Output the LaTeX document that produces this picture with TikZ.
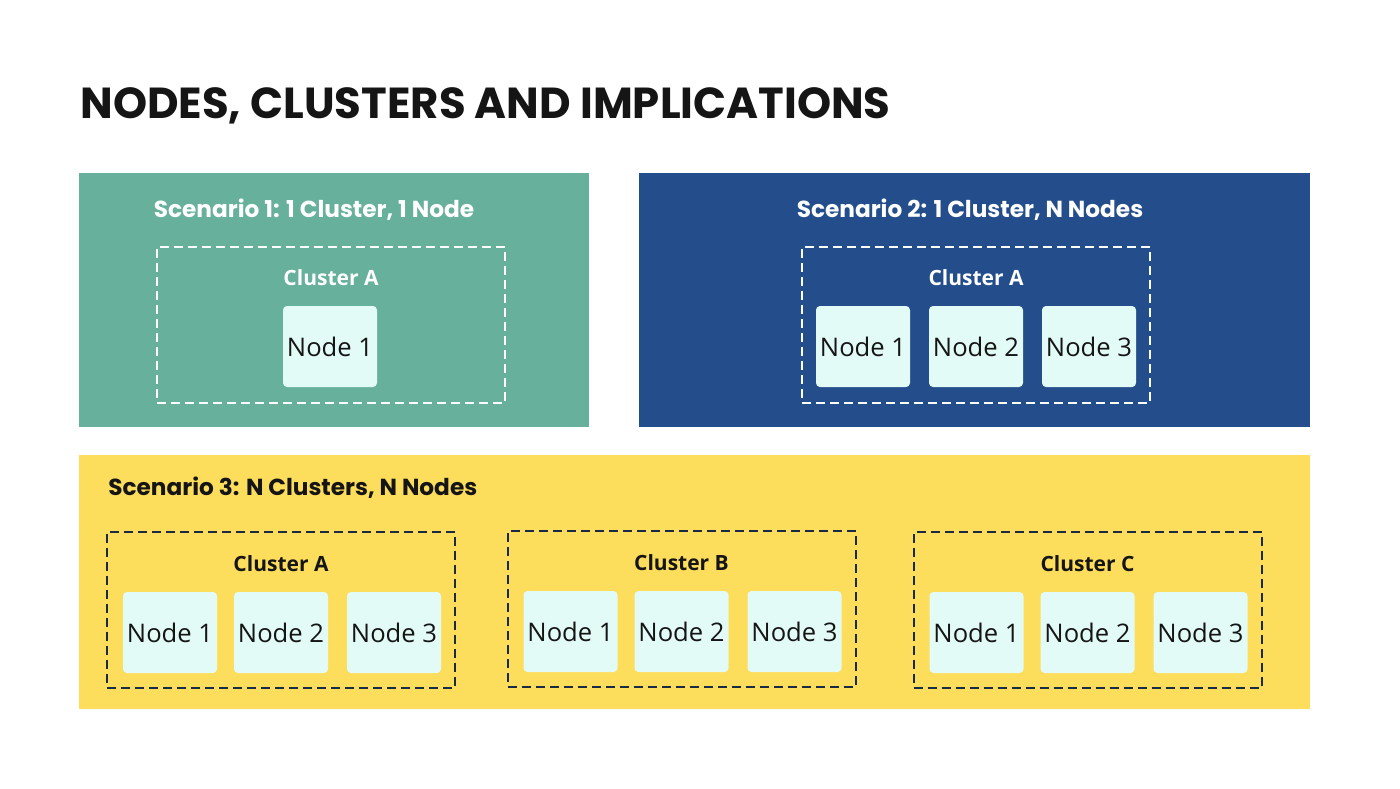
\documentclass[tikz,border=0pt]{standalone}
\usepackage{fontspec}
\setmainfont{Open Sans}
\newfontfamily\headfont{Poppins}
\definecolor{scone}{HTML}{66B09C}
\definecolor{sctwo}{HTML}{234E8B}
\definecolor{scthree}{HTML}{FDDD5C}
\definecolor{nodefill}{HTML}{E3FBF6}
\definecolor{inkdark}{HTML}{151515}
\definecolor{navyline}{HTML}{1B2A44}
\begin{document}
\begin{tikzpicture}[x=0.5pt,y=-0.5pt]
  \tikzstyle{panel}=[inner sep=0pt,anchor=north west,minimum height=127pt]
  \tikzstyle{heading}=[inner sep=0pt,font=\headfont\bfseries\fontsize{11.6}{13}\selectfont]
  \tikzstyle{clusterbox}=[draw,dash pattern=on 4.5pt off 2.5pt,line width=1pt,inner sep=0pt,
    minimum width=174pt,minimum height=78pt]
  \tikzstyle{clusterlabel}=[inner sep=0pt,font=\bfseries\fontsize{10.5}{12}\selectfont]
  \tikzstyle{machine}=[fill=nodefill,rounded corners=2pt,inner sep=0pt,minimum width=47pt,
    minimum height=40.5pt,text=inkdark,font=\fontsize{12.8}{14}\selectfont]
  \useasboundingbox (0,0) rectangle (1400,788);
  \fill[white] (0,0) rectangle (1400,788);
  \node[anchor=base west,inner sep=0pt,text=inkdark,font=\headfont\bfseries\fontsize{21.7}{25}\selectfont]
    (title) at (80,118) {NODES, CLUSTERS AND IMPLICATIONS};
  % scenario panels
  \node[panel,fill=scone,minimum width=255pt] (p1) at (79,173) {};
  \node[panel,fill=sctwo,minimum width=335.5pt] (p2) at (639,173) {};
  \node[panel,fill=scthree,minimum width=615.5pt] (p3) at (79,455) {};
  \node[heading,text=white] (h1) at (314,210) {Scenario 1: 1 Cluster, 1 Node};
  \node[heading,text=white] (h2) at (970,210) {Scenario 2: 1 Cluster, N Nodes};
  \node[heading,text=inkdark,anchor=west] (h3) at (108,488) {Scenario 3: N Clusters, N Nodes};
  % scenario 1
  \node[clusterbox,draw=white] (c1A) at (331,325) {};
  \node[clusterlabel,text=white] (c1A-label) at (331,278) {Cluster A};
  \node[machine] (c1A1) at (330,346.5) {Node 1};
  % scenario 2
  \node[clusterbox,draw=white] (c2A) at (976,325) {};
  \node[clusterlabel,text=white] (c2A-label) at (976,278) {Cluster A};
  \foreach \i/\dx in {1/-113,2/0,3/113}
    {\node[machine] (c2A\i) at ({976+\dx},346.5) {Node \i};}
  % scenario 3
  \foreach \c/\x/\y in {A/281/532,B/681.5/531,C/1087.5/532} {
    \node[clusterbox,draw=navyline] (c3\c) at (\x,{\y+78}) {};
    \node[clusterlabel,text=inkdark] (c3\c-label) at (\x,{\y+32}) {Cluster \c};
    \foreach \i/\dx in {1/-111,2/0,3/113}
      {\node[machine] (c3\c\i) at ({\x+\dx},{\y+100.5}) {Node \i};}
  }
\end{tikzpicture}
\end{document}
